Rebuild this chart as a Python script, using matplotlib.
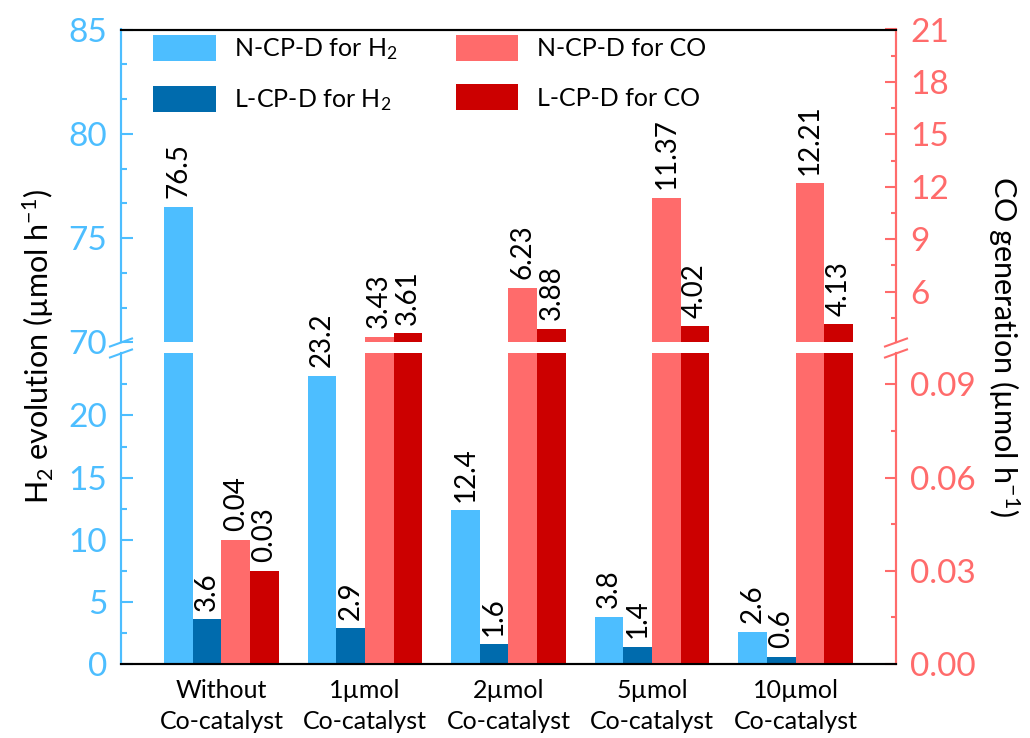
import numpy as np
import matplotlib
matplotlib.use("Agg")
import matplotlib.pyplot as plt
from matplotlib.ticker import MultipleLocator, FixedLocator, FormatStrFormatter

plt.rcParams['font.family'] = ['Lato', 'DejaVu Sans']
plt.rcParams['mathtext.fontset'] = 'custom'
plt.rcParams['mathtext.rm'] = 'Lato'
plt.rcParams['mathtext.it'] = 'Lato:italic'
plt.rcParams['mathtext.bf'] = 'Lato:bold'

# Datos
categorias = ['Without\nCo-catalyst', '1\u00b5mol\nCo-catalyst', '2\u00b5mol\nCo-catalyst',
              '5\u00b5mol\nCo-catalyst', '10\u00b5mol\nCo-catalyst']
h2_n = [76.5, 23.2, 12.4, 3.8, 2.6]
h2_l = [3.6, 2.9, 1.6, 1.4, 0.6]
co_n = [0.04, 3.43, 6.23, 11.37, 12.21]
co_l = [0.03, 3.61, 3.88, 4.02, 4.13]
etiquetas_h2_n = ['76.5', '23.2', '12.4', '3.8', '2.6']
etiquetas_h2_l = ['3.6', '2.9', '1.6', '1.4', '0.6']
etiquetas_co_n = ['0.04', '3.43', '6.23', '11.37', '12.21']
etiquetas_co_l = ['0.03', '3.61', '3.88', '4.02', '4.13']

c_h2_n = '#4DBEFF'
c_h2_l = '#006BAD'
c_co_n = '#FF6B6B'
c_co_l = '#CC0000'
c_izq = '#4DBEFF'
c_der = '#FF6B6B'

fig = plt.figure(figsize=(10.3, 7.38), dpi=100)
W, H = 1030, 738

# ejes: arriba y abajo, cada uno con su gemelo a la derecha
x0, x1 = 121 / W, 896 / W
ax_sup = fig.add_axes([x0, 1 - 342.3 / H, x1 - x0, (342.3 - 29.5) / H])
ax_inf = fig.add_axes([x0, 1 - 664 / H, x1 - x0, (664 - 353.3) / H])
ax_sup_d = ax_sup.twinx()
ax_inf_d = ax_inf.twinx()

x = np.arange(len(categorias))
ancho = 0.2

lim_sup_izq = (70, 85)
lim_inf_izq = (0, 25)
lim_sup_der = (3.1, 21)
lim_inf_der = (0, 0.1)

barras = []
for a_izq, a_der in [(ax_sup, ax_sup_d), (ax_inf, ax_inf_d)]:
    b1 = a_izq.bar(x - 1.5 * ancho, h2_n, ancho, color=c_h2_n, label='N-CP-D for H$_2$')
    b2 = a_izq.bar(x - 0.5 * ancho, h2_l, ancho, color=c_h2_l, label='L-CP-D for H$_2$')
    b3 = a_der.bar(x + 0.5 * ancho, co_n, ancho, color=c_co_n, label='N-CP-D for CO')
    b4 = a_der.bar(x + 1.5 * ancho, co_l, ancho, color=c_co_l, label='L-CP-D for CO')
    barras = [b1, b2, b3, b4]

ax_sup.set_ylim(*lim_sup_izq)
ax_inf.set_ylim(*lim_inf_izq)
ax_sup_d.set_ylim(*lim_sup_der)
ax_inf_d.set_ylim(*lim_inf_der)
for a in [ax_sup, ax_inf, ax_sup_d, ax_inf_d]:
    a.set_xlim(-0.7, 4.7)

# etiquetas de valor encima de cada barra, en el panel donde termina la barra
def etiquetar(valores, textos, desp, ax_a, ax_b, tope_b):
    for i, (v, t) in enumerate(zip(valores, textos)):
        a = ax_a if v > tope_b else ax_b
        a.annotate(t, (x[i] + desp, v), xytext=(0, 6), textcoords='offset points',
                   rotation=90, ha='center', va='bottom', fontsize=20)

etiquetar(h2_n, etiquetas_h2_n, -1.5 * ancho, ax_sup, ax_inf, lim_inf_izq[1])
etiquetar(h2_l, etiquetas_h2_l, -0.5 * ancho, ax_sup, ax_inf, lim_inf_izq[1])
etiquetar(co_n, etiquetas_co_n, 0.5 * ancho, ax_sup_d, ax_inf_d, lim_inf_der[1])
etiquetar(co_l, etiquetas_co_l, 1.5 * ancho, ax_sup_d, ax_inf_d, lim_inf_der[1])

# ticks
ax_sup.yaxis.set_major_locator(MultipleLocator(5))
ax_sup.yaxis.set_minor_locator(MultipleLocator(5 / 3))
ax_inf.yaxis.set_major_locator(FixedLocator([0, 5, 10, 15, 20]))
ax_inf.yaxis.set_minor_locator(FixedLocator([2.5, 7.5, 12.5, 17.5, 22.5]))
ax_sup_d.yaxis.set_major_locator(FixedLocator([6, 9, 12, 15, 18, 21]))
ax_sup_d.yaxis.set_minor_locator(FixedLocator([4.5, 7.5, 10.5, 13.5, 16.5, 19.5]))
ax_inf_d.yaxis.set_major_locator(FixedLocator([0, 0.03, 0.06, 0.09]))
ax_inf_d.yaxis.set_minor_locator(FixedLocator([0.015, 0.045, 0.075]))
ax_inf_d.yaxis.set_major_formatter(FormatStrFormatter('%.2f'))

for a in [ax_sup, ax_inf]:
    a.tick_params(axis='y', which='major', direction='in', length=8.5, width=1.5,
                  color=c_izq, labelcolor=c_izq, labelsize=24, pad=10)
    a.tick_params(axis='y', which='minor', direction='in', length=4.5, width=1.5, color=c_izq)
for a in [ax_sup_d, ax_inf_d]:
    a.tick_params(axis='y', which='major', direction='in', length=8, width=1.5,
                  color=c_der, labelcolor=c_der, labelsize=24, pad=10)
    a.tick_params(axis='y', which='minor', direction='in', length=3.5, width=1.5, color=c_der)

ax_sup.set_xticks([])
ax_sup_d.set_xticks([])
ax_inf.set_xticks(x)
ax_inf.set_xticklabels(categorias, fontsize=18, linespacing=1.4)
ax_inf.tick_params(axis='x', length=0, pad=11)

# bordes
for a in [ax_sup, ax_sup_d]:
    a.spines['bottom'].set_visible(False)
    a.spines['top'].set_linewidth(1.5)
for a in [ax_inf, ax_inf_d]:
    a.spines['top'].set_visible(False)
    a.spines['bottom'].set_linewidth(1.5)
for a in [ax_sup, ax_inf, ax_sup_d, ax_inf_d]:
    a.spines['left'].set_color(c_izq)
    a.spines['left'].set_linewidth(1.5)
    a.spines['right'].set_color(c_der)
    a.spines['right'].set_linewidth(1.5)

# marcas de corte del eje
dx, dy = 11, 4
for xp, col in [(121, c_izq), (896, c_der)]:
    for yp in [342.5, 353.5]:
        fig.add_artist(plt.Line2D([(xp - dx) / W, (xp + dx) / W],
                                  [1 - (yp + dy) / H, 1 - (yp - dy) / H],
                                  color=col, lw=1.5))

fig.text(38 / W, 0.53, 'H$_2$ evolution (\u00b5mol h$^{-1}$)', rotation=90,
         ha='center', va='center', fontsize=22)
fig.text(1004 / W, 0.53, 'CO generation (\u00b5mol h$^{-1}$)', rotation=-90,
         ha='center', va='center', fontsize=22)

ax_sup_d.legend(handles=barras, ncol=2, frameon=False, fontsize=18,
                loc='upper left', bbox_to_anchor=(153 / W, 1 - 35 / H),
                bbox_transform=fig.transFigure, borderaxespad=0, borderpad=0,
                handlelength=2.5, handleheight=1.2, handletextpad=0.75,
                labelspacing=0.95, columnspacing=2.3)

fig.savefig('out.png', dpi=100)
